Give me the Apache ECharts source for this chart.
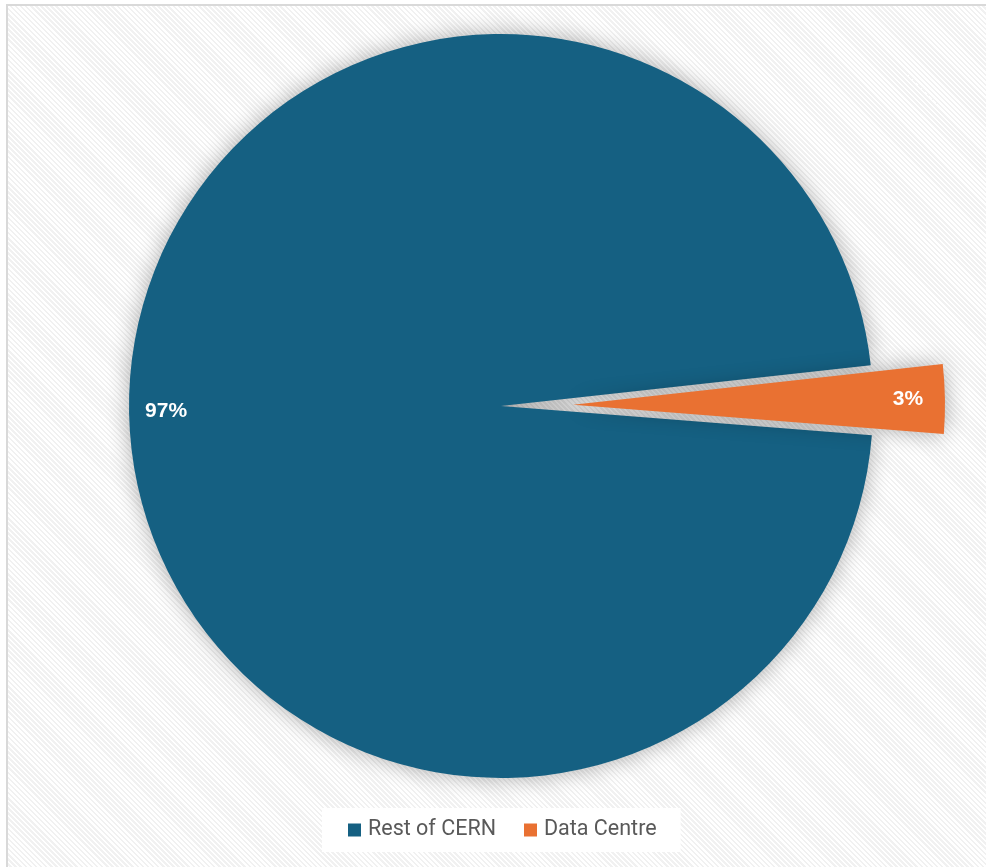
<!DOCTYPE html>
<html>
<head>
<meta charset="utf-8">
<script src="https://cdn.jsdelivr.net/npm/echarts@6/dist/echarts.min.js"></script>
<style>
  html, body { margin: 0; padding: 0; background: #fff; overflow: hidden; }
  .frame {
    position: absolute; left: 6px; top: 4px; width: 1000px; height: 900px;
    border-left: 2px solid #d9d9d9; border-top: 2px solid #d9d9d9;
    background: repeating-linear-gradient(45deg, #f1f1f1 0 1.8px, #ffffff 1.8px 3.6px);
  }
  #chart { position: absolute; left: 0; top: 0; width: 986px; height: 867px; }
</style>
</head>
<body>
<div class="frame"></div>
<div id="chart"></div>
<script>
// share of electricity, in percent
const categories = ['Rest of CERN', 'Data Centre']
const shares = [97, 3]
const colors = ['#156082', '#E97132']
const explodedSlice = 'Data Centre'

const chart = echarts.init(document.getElementById('chart'))

const pieData = categories.map((name, i) => ({
  name,
  value: shares[i],
  selected: name === explodedSlice
}))

const option = {
  backgroundColor: 'transparent',
  color: colors,
  legend: {
    top: 808,
    left: 322,
    icon: 'rect',
    itemWidth: 13,
    itemHeight: 13,
    itemGap: 28,
    padding: [11, 24, 11, 26],
    backgroundColor: '#ffffff',
    selectedMode: false,
    textStyle: { color: '#595959', fontSize: 21.5, fontFamily: 'Roboto', padding: [0, 0, 0, 2] },
    data: categories
  },
  series: [
    {
      name: 'slices',
      type: 'pie',
      center: [501, 406],
      radius: 372,
      startAngle: -4.5,
      selectedMode: 'single',
      selectedOffset: 72,
      silent: true,
      label: { show: false },
      labelLine: { show: false },
      itemStyle: {
        shadowBlur: 22,
        shadowColor: 'rgba(0,0,0,0.32)'
      },
      emphasis: { disabled: true },
      data: pieData
    },
    {
      // transparent ring that only carries the labels near the rim
      name: 'labels',
      type: 'pie',
      center: [501, 406],
      radius: [292, 372],
      startAngle: -4.5,
      selectedMode: 'single',
      selectedOffset: 72,
      silent: true,
      z: 3,
      itemStyle: { color: 'rgba(0,0,0,0)' },
      label: {
        show: true,
        position: 'inside',
        formatter: '{c}%',
        color: '#ffffff',
        fontSize: 21,
        fontWeight: 'bold',
        fontFamily: 'Liberation Sans'
      },
      labelLine: { show: false },
      emphasis: { disabled: true },
      data: pieData.map(d => ({ ...d }))
    }
  ]
}

chart.setOption(option)

window.addEventListener('resize', () => {
  chart.resize()
})
</script>
</body>
</html>
